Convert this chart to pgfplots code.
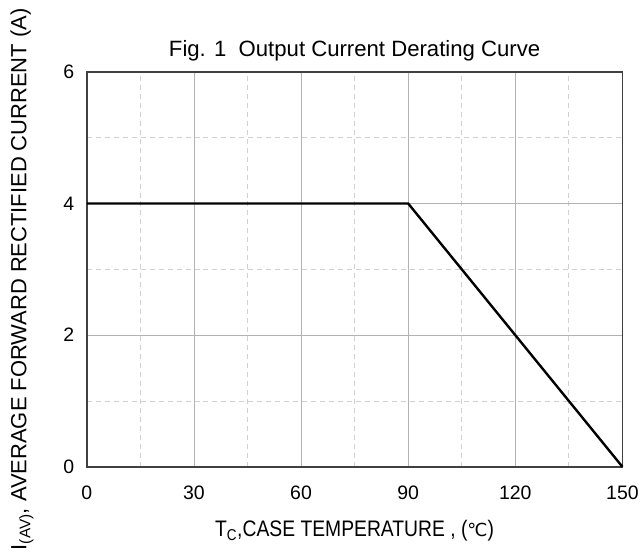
\documentclass[border=0pt]{standalone}
\usepackage{pgfplots}
\pgfplotsset{compat=1.18}
\usepackage{fontspec}
\setmainfont{Liberation Sans}
\newfontfamily\dejavu{DejaVu Sans}
\newfontfamily\narrow[FakeStretch=0.86]{Liberation Sans}
\begin{document}
\begin{tikzpicture}
\begin{axis}[
  scale only axis,
  width=537pt, height=396pt,
  xmin=0, xmax=150, ymin=0, ymax=6,
  xtick={0,30,60,90,120,150},
  ytick={0,2,4,6},
  minor xtick={15,45,75,105,135},
  minor ytick={1,3,5},
  grid=both,
  major grid style={line width=0.8pt, color=black!30},
  minor grid style={line width=0.8pt, color=black!18, dash pattern=on 5pt off 4pt},
  major tick length=0pt, minor tick length=0pt,
  axis line style={line width=1.6pt, color=black!75},
  /pgf/number format/assume math mode=true,
  tick label style={font=\fontsize{19.5}{23}\selectfont},
  xticklabel style={yshift=-16pt},
  yticklabel style={xshift=-9pt},
  title={Fig. 1\ \ Output Current Derating Curve},
  title style={font=\fontsize{22.2}{26}\selectfont, yshift=1pt},
  xlabel={T\textsubscript{C},CASE TEMPERATURE , ({\dejavu\fontsize{18}{21}\selectfont ℃})},
  xlabel style={font=\narrow\fontsize{22.5}{26}\selectfont, yshift=-13pt},
  ylabel={I\textsubscript{(AV)}, AVERAGE FORWARD RECTIFIED CURRENT (A)},
  ylabel style={font=\fontsize{22}{26}\selectfont, yshift=23pt, xshift=-10pt},
  clip=false,
]
\addplot[black, line width=2.4pt] coordinates {(0,4) (90,4) (150,0)};
\end{axis}
\path (current axis.south west) ++(-87pt,-93pt) rectangle ++(642pt,561pt);
\end{tikzpicture}
\end{document}
